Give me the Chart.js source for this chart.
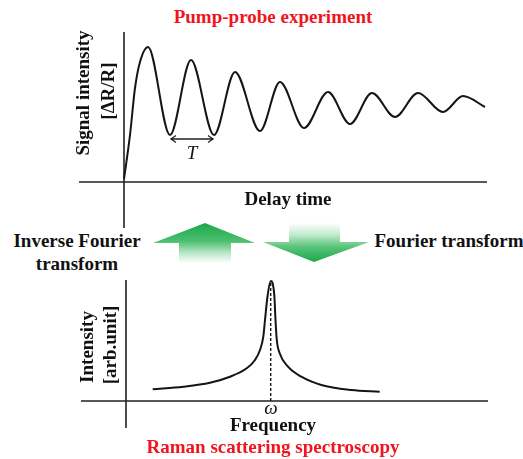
<!DOCTYPE html>
<html>
<head>
<meta charset="utf-8">
<script src="https://cdn.jsdelivr.net/npm/chart.js@4.4.0/dist/chart.umd.min.js"></script>
<style>
  body { margin: 0; background: #fff; }
  #wrap { position: relative; width: 523px; height: 459px; overflow: hidden; font-family: "Liberation Serif", "Times New Roman", serif; }
  .lbl { position: absolute; transform: translate(-50%, -50%); white-space: nowrap; font-weight: bold; font-size: 19px; color: #111; }
  .red { color: #f0141e; }
  .rot { transform: translate(-50%, -50%) rotate(-90deg); }
  .ital { font-style: italic; font-weight: normal; }
  canvas { position: absolute; }
  .arrow { position: absolute; }
  #upArrow {
    left: 153px; top: 223px; width: 102px; height: 40px;
    clip-path: polygon(52px 0, 102px 20px, 78px 20px, 78px 40px, 26px 40px, 26px 20px, 0 20px);
    background: linear-gradient(to bottom, #1aa84a 0%, #4bbf6e 45%, #b9e6c6 75%, #ffffff 100%);
  }
  #downArrow {
    left: 263px; top: 223px; width: 106px; height: 39px;
    clip-path: polygon(26px 0, 77px 0, 77px 19px, 106px 19px, 51px 39px, 0 19px, 26px 19px);
    background: linear-gradient(to bottom, #ffffff 0%, #c4eacf 30%, #5cc57b 60%, #1aa84a 100%);
  }
</style>
</head>
<body>
<div id="wrap">
  <div class="lbl red" style="left:273px; top:17px;">Pump-probe experiment</div>
  <canvas id="pumpChart" width="408" height="196" style="left:79px; top:32px;"></canvas>
  <div class="lbl rot" style="left:83px; top:93px;">Signal intensity</div>
  <div class="lbl rot" style="left:108px; top:91px;">[ΔR/R]</div>
  <div class="lbl ital" style="left:192px; top:153px;">T</div>
  <div class="lbl" style="left:288px; top:199px;">Delay time</div>

  <div class="arrow" id="upArrow"></div>
  <div class="arrow" id="downArrow"></div>
  <div class="lbl" style="left:77px; top:241px;">Inverse Fourier</div>
  <div class="lbl" style="left:77px; top:264px;">transform</div>
  <div class="lbl" style="left:449px; top:241px;">Fourier transform</div>

  <canvas id="ramanChart" width="407" height="148" style="left:81px; top:280px;"></canvas>
  <div class="lbl rot" style="left:87px; top:347px;">Intensity</div>
  <div class="lbl rot" style="left:110px; top:345px;">[arb.unit]</div>
  <div class="lbl ital" style="left:271px; top:408px;">ω</div>
  <div class="lbl" style="left:273px; top:425px;">Frequency</div>
  <div class="lbl red" style="left:273px; top:447px;">Raman scattering spectroscopy</div>
</div>

<script>
// pump-probe trace: delay time vs reflectivity change (damped oscillation)
const delayTime = [0, 0.6, 1.1, 1.6, 2.4, 4.6, 6.7, 9.0, 11.1, 13.6, 15.6, 18.0, 20.4, 22.6, 24.8, 27.1, 29.4, 31.9, 33.9, 36.1];
const signalIntensity = [0.3, 4.7, 9.4, 12.0, 13.5, 4.7, 12.2, 4.7, 11.0, 5.1, 10.0, 5.4, 9.0, 5.8, 8.9, 6.5, 8.9, 7.0, 8.6, 7.5];

// raman spectrum: single lorentzian line at omega
const frequency = [2.67, 5.73, 8.4, 10.4, 12.07, 12.9, 13.4, 13.73, 13.9, 14.17, 14.47, 14.83, 14.95, 15.08, 15.37, 16.2, 17.53, 19.53, 22.53, 25.37];
const ramanIntensity = [1.17, 1.43, 1.83, 2.43, 3.27, 4.1, 5.1, 6.43, 8.1, 10.6, 12.0, 10.6, 8.1, 6.1, 4.77, 3.43, 2.43, 1.6, 1.1, 0.93];

// axis ranges (axes cross at 0,0)
const pumpX = [-4.5, 36.3];
const pumpY = [-4.6, 15];
const ramanX = [-4.5, 36.2];
const ramanY = [-2.7, 12.1];

function toPoints(xs, ys) {
    return xs.map((x, i) => ({ x: x, y: ys[i] }));
}

// draws the two crossing axis lines through 0
const crossAxes = {
    id: 'crossAxes',
    beforeDatasetsDraw(chart) {
        const ctx = chart.ctx;
        const a = chart.chartArea;
        const x0 = chart.scales.x.getPixelForValue(0);
        const y0 = chart.scales.y.getPixelForValue(0);
        ctx.save();
        ctx.strokeStyle = '#222';
        ctx.lineWidth = 1.6;
        ctx.beginPath();
        ctx.moveTo(a.left, y0);
        ctx.lineTo(a.right, y0);
        ctx.moveTo(x0, a.top);
        ctx.lineTo(x0, a.bottom);
        ctx.stroke();
        ctx.restore();
    }
};

// period marker between the first two minima
const periodArrow = {
    id: 'periodArrow',
    afterDatasetsDraw(chart) {
        const ctx = chart.ctx;
        const xs = chart.scales.x, ys = chart.scales.y;
        const x1 = xs.getPixelForValue(delayTime[5]);
        const x2 = xs.getPixelForValue(delayTime[7]);
        const y = ys.getPixelForValue(Math.min(signalIntensity[5], signalIntensity[7])) + 4;
        ctx.save();
        ctx.strokeStyle = '#222';
        ctx.lineWidth = 1.3;
        ctx.beginPath();
        ctx.moveTo(x1 + 1, y);
        ctx.lineTo(x2 - 1, y);
        ctx.moveTo(x1 + 6, y - 3.5);
        ctx.lineTo(x1 + 1, y);
        ctx.lineTo(x1 + 6, y + 3.5);
        ctx.moveTo(x2 - 6, y - 3.5);
        ctx.lineTo(x2 - 1, y);
        ctx.lineTo(x2 - 6, y + 3.5);
        ctx.stroke();
        ctx.restore();
    }
};

function baseOptions(xr, yr) {
    return {
        responsive: false,
        animation: false,
        layout: { padding: 0 },
        plugins: { legend: { display: false }, tooltip: { enabled: false }, title: { display: false } },
        scales: {
            x: { type: 'linear', min: xr[0], max: xr[1], display: false },
            y: { type: 'linear', min: yr[0], max: yr[1], display: false }
        }
    };
}

new Chart(document.getElementById('pumpChart'), {
    type: 'line',
    data: {
        datasets: [{
            data: toPoints(delayTime, signalIntensity),
            borderColor: '#151515',
            borderWidth: 2,
            pointRadius: 0,
            cubicInterpolationMode: 'monotone',
            clip: false
        }]
    },
    options: baseOptions(pumpX, pumpY),
    plugins: [crossAxes, periodArrow]
});

// peak position for the dashed omega marker
const peakIdx = ramanIntensity.indexOf(Math.max(...ramanIntensity));

new Chart(document.getElementById('ramanChart'), {
    type: 'line',
    data: {
        datasets: [{
            data: toPoints(frequency, ramanIntensity),
            borderColor: '#151515',
            borderWidth: 2,
            pointRadius: 0,
            cubicInterpolationMode: 'monotone',
            clip: false
        }, {
            data: [{ x: frequency[peakIdx], y: 0 }, { x: frequency[peakIdx], y: ramanIntensity[peakIdx] }],
            borderColor: '#151515',
            borderWidth: 1.4,
            borderDash: [3, 2],
            pointRadius: 0,
            clip: false
        }]
    },
    options: baseOptions(ramanX, ramanY),
    plugins: [crossAxes]
});
</script>
</body>
</html>
